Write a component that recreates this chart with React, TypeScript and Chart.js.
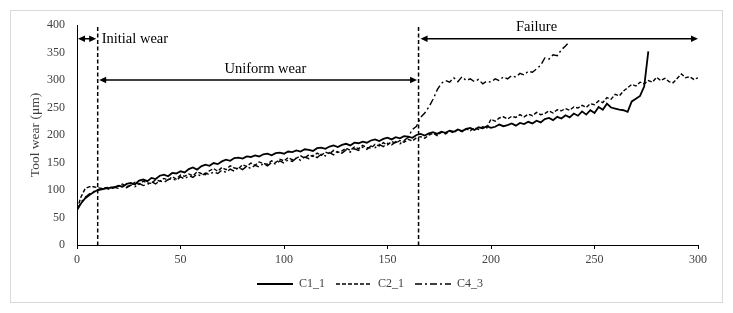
import React, { useEffect, useRef } from "react";
import { Chart, registerables } from "chart.js";

Chart.register(...registerables);

// Machining time sampled every 2 units
const timeValues = [
  0, 2, 4, 6, 8, 10, 12, 14, 16, 18, 20, 22, 24, 26, 28, 30, 32, 34, 36, 38,
  40, 42, 44, 46, 48, 50, 52, 54, 56, 58, 60, 62, 64, 66, 68, 70, 72, 74, 76, 78,
  80, 82, 84, 86, 88, 90, 92, 94, 96, 98, 100, 102, 104, 106, 108, 110, 112, 114, 116, 118,
  120, 122, 124, 126, 128, 130, 132, 134, 136, 138, 140, 142, 144, 146, 148, 150, 152, 154, 156, 158,
  160, 162, 164, 166, 168, 170, 172, 174, 176, 178, 180, 182, 184, 186, 188, 190, 192, 194, 196, 198,
  200, 202, 204, 206, 208, 210, 212, 214, 216, 218, 220, 222, 224, 226, 228, 230, 232, 234, 236, 238,
  240, 242, 244, 246, 248, 250, 252, 254, 256, 258, 260, 262, 264, 266, 268, 270, 272, 274, 276, 278,
  280, 282, 284, 286, 288, 290, 292, 294, 296, 298, 300,
];

const c1_1 = [
  64, 76, 85, 91, 96, 100, 101, 103, 104, 105,
  108, 106, 111, 113, 110, 117, 119, 116, 122, 120,
  126, 128, 125, 131, 130, 134, 132, 138, 141, 137,
  143, 146, 144, 149, 147, 152, 155, 153, 158, 159,
  157, 161, 160, 163, 161, 165, 166, 163, 167, 168,
  166, 170, 169, 172, 170, 174, 173, 171, 176, 177,
  175, 179, 181, 178, 182, 184, 181, 186, 185, 188,
  186, 190, 192, 189, 193, 195, 192, 196, 194, 198,
  197, 195, 200, 202, 199, 203, 205, 202, 206, 204,
  208, 206, 210, 207, 211, 213, 209, 214, 212, 216,
  213, 215, 219, 216, 218, 221, 217, 222, 220, 224,
  221, 226, 223, 229, 231, 227, 233, 230, 236, 232,
  239, 235, 243, 237, 245, 240, 251, 246, 257, 250,
  248, 246, 245, 242, 261, 266, 271, 288, 352,
];

const c2_1 = [
  65, 88, 103, 106, 106, 104, 103, 104, 105, 104,
  107, 111, 106, 109, 114, 110, 116, 113, 112, 119,
  116, 121, 118, 124, 120, 127, 125, 129, 126, 133,
  130, 128, 135, 139, 134, 141, 137, 144, 140, 139,
  146, 143, 149, 145, 151, 148, 147, 153, 150, 156,
  153, 159, 155, 158, 162, 158, 164, 161, 167, 163,
  169, 166, 172, 168, 171, 176, 172, 178, 175, 181,
  177, 176, 183, 180, 186, 182, 188, 185, 190, 187,
  192, 189, 195, 197, 194, 200, 203, 199, 205, 202,
  207, 204, 210, 206, 211, 208, 213, 210, 215, 213,
  229, 225, 231, 233, 229, 234, 232, 237, 233, 238,
  235, 241, 237, 239, 244, 240, 246, 244, 248, 245,
  251, 249, 254, 250, 257, 255, 262, 259, 268, 265,
  274, 271, 280, 286, 292, 289, 296, 293, 299, 296,
  305, 299, 303, 297, 295, 303, 311, 304, 306, 301,
  304,
];

const c4_3 = [
  63, 78, 87, 93, 97, 100, 102, 103, 101, 105,
  103, 107, 104, 109, 106, 112, 108, 110, 115, 111,
  117, 114, 119, 121, 117, 124, 120, 126, 123, 129,
  125, 131, 128, 133, 130, 136, 132, 138, 134, 141,
  137, 143, 139, 145, 142, 148, 144, 150, 147, 153,
  149, 155, 152, 158, 154, 160, 157, 163, 159, 165,
  162, 168, 164, 170, 167, 173, 169, 175, 172, 178,
  174, 180, 177, 183, 179, 185, 182, 188, 184, 190,
  196, 210, 216, 232, 240, 251, 265, 282, 294, 299,
  296, 304, 297, 306, 299, 302, 297, 301, 293, 298,
  296, 302, 299, 306, 302, 308, 305, 312, 309, 316,
  314, 320, 327, 340, 338, 346, 344, 355, 362, 370,
];

const seriesNames = ["C1_1", "C2_1", "C4_3"];
const xTickValues = [0, 50, 100, 150, 200, 250, 300];
const yTickValues = [0, 50, 100, 150, 200, 250, 300, 350, 400];
const phaseBoundaries = [10, 165];
const phaseLabels = ["Initial wear", "Uniform wear", "Failure"];
const yTitle = "Tool wear (\u03bcm)";

const SERIF = "'Liberation Serif', 'Times New Roman', serif";

function toPoints(values: number[]) {
  return values.map((v, i) => ({ x: timeValues[i], y: v }));
}

function drawArrow(ctx: CanvasRenderingContext2D, x0: number, x1: number, y: number) {
  const head = 7;
  const half = 3.2;
  ctx.beginPath();
  ctx.moveTo(x0 + head - 1, y);
  ctx.lineTo(x1 - head + 1, y);
  ctx.stroke();
  ctx.beginPath();
  ctx.moveTo(x0, y);
  ctx.lineTo(x0 + head, y - half);
  ctx.lineTo(x0 + head, y + half);
  ctx.closePath();
  ctx.fill();
  ctx.beginPath();
  ctx.moveTo(x1, y);
  ctx.lineTo(x1 - head, y - half);
  ctx.lineTo(x1 - head, y + half);
  ctx.closePath();
  ctx.fill();
}

const framePlugin = {
  id: "frame",
  afterLayout(chart: any) {
    const lg = chart.legend;
    if (lg) {
      lg.left += 21;
      lg.right += 21;
    }
  },
  beforeDraw(chart: any) {
    const { ctx, width, height } = chart;
    ctx.save();
    ctx.fillStyle = "#ffffff";
    ctx.fillRect(0, 0, width, height);
    ctx.strokeStyle = "#d9d9d9";
    ctx.lineWidth = 1;
    ctx.strokeRect(10.5, 10.5, width - 21, height - 21);
    ctx.restore();
  },
  afterDatasetsDraw(chart: any) {
    const { ctx, scales } = chart;
    const xs = scales.x;
    const ys = scales.y;
    ctx.save();
    ctx.strokeStyle = "#000";
    ctx.fillStyle = "#000";
    ctx.lineWidth = 1.5;
    ctx.setLineDash([4, 2.5]);
    const top = ys.getPixelForValue(yTickValues[yTickValues.length - 1]);
    const bottom = ys.getPixelForValue(0);
    phaseBoundaries.forEach((b) => {
      const px = xs.getPixelForValue(b);
      ctx.beginPath();
      ctx.moveTo(px, top + 2);
      ctx.lineTo(px, bottom);
      ctx.stroke();
    });
    ctx.setLineDash([]);
    ctx.lineWidth = 1.5;

    const xMin = xs.getPixelForValue(0);
    const xA = xs.getPixelForValue(phaseBoundaries[0]);
    const xB = xs.getPixelForValue(phaseBoundaries[1]);
    const xMax = xs.getPixelForValue(300);
    const yTopArrow = ys.getPixelForValue(375);
    const yMidArrow = ys.getPixelForValue(300);

    drawArrow(ctx, xMin + 1, xA - 1.5, yTopArrow);
    drawArrow(ctx, xA + 1.5, xB - 1.5, yMidArrow);
    drawArrow(ctx, xB + 2, xMax, yTopArrow);

    ctx.font = `14.5px ${SERIF}`;
    ctx.fillStyle = "#000";
    ctx.textBaseline = "middle";
    ctx.textAlign = "left";
    ctx.fillText(phaseLabels[0], xA + 4, ys.getPixelForValue(374));
    ctx.textAlign = "center";
    ctx.fillText(phaseLabels[1], xs.getPixelForValue(91), ys.getPixelForValue(320));
    ctx.fillText(phaseLabels[2], xs.getPixelForValue(222), ys.getPixelForValue(396));
    ctx.restore();
  },
};

export default function App() {
  const canvasRef = useRef<HTMLCanvasElement | null>(null);

  useEffect(() => {
    if (!canvasRef.current) return;
    const chart = new Chart(canvasRef.current, {
      type: "line",
      data: {
        datasets: [
          {
            label: seriesNames[0],
            data: toPoints(c1_1),
            borderColor: "#000",
            backgroundColor: "#000",
            borderWidth: 1.8,
            pointRadius: 0,
            tension: 0,
          },
          {
            label: seriesNames[1],
            data: toPoints(c2_1),
            borderColor: "#000",
            backgroundColor: "#000",
            borderWidth: 1.4,
            borderDash: [4, 2],
            pointRadius: 0,
            tension: 0,
          },
          {
            label: seriesNames[2],
            data: toPoints(c4_3),
            borderColor: "#000",
            backgroundColor: "#000",
            borderWidth: 1.4,
            borderDash: [7, 3, 2, 3],
            pointRadius: 0,
            tension: 0,
          },
        ],
      },
      options: {
        animation: false,
        responsive: true,
        maintainAspectRatio: false,
        layout: { padding: { top: 25, left: 0, right: 35, bottom: 13 } },
        plugins: {
          tooltip: { enabled: false },
          legend: {
            position: "bottom",
            labels: {
              usePointStyle: true,
              pointStyle: "line",
              pointStyleWidth: 36,
              padding: 11,
              color: "#404040",
              font: { family: SERIF, size: 12 },
              generateLabels: (chart: any) => {
                const items = Chart.defaults.plugins.legend.labels.generateLabels(chart);
                return items.map((item: any, i: number) => {
                  const ds = chart.data.datasets[item.datasetIndex ?? i];
                  return {
                    ...item,
                    pointStyle: "line",
                    lineDash: ds.borderDash || [],
                    lineWidth: ds.borderWidth,
                    strokeStyle: "#000",
                    fillStyle: "#000",
                  };
                });
              },
            },
          },
        },
        scales: {
          x: {
            type: "linear",
            min: 0,
            max: 300,
            afterBuildTicks: (scale: any) => {
              scale.ticks = xTickValues.map((v) => ({ value: v }));
            },
            afterFit: (scale: any) => {
              scale.height = 22;
            },
            grid: {
              display: true,
              drawOnChartArea: false,
              drawTicks: true,
              tickLength: 4,
              color: "#000",
            },
            border: { display: true, color: "#000", width: 1 },
            ticks: {
              padding: 4,
              color: "#404040",
              font: { family: SERIF, size: 12 },
              maxRotation: 0,
            },
          },
          y: {
            type: "linear",
            min: 0,
            max: 400,
            afterBuildTicks: (scale: any) => {
              scale.ticks = yTickValues.map((v) => ({ value: v }));
            },
            afterFit: (scale: any) => {
              scale.width = 77;
            },
            grid: { display: false, drawTicks: false },
            border: { display: true, color: "#000", width: 1 },
            ticks: {
              padding: 12,
              color: "#404040",
              font: { family: SERIF, size: 12 },
            },
            title: {
              display: true,
              text: yTitle,
              color: "#404040",
              font: { family: SERIF, size: 13.5 },
              padding: { top: 27, bottom: 0 },
            },
          },
        },
      },
      plugins: [framePlugin],
    });
    return () => chart.destroy();
  }, []);

  return (
    <div style={{ position: "fixed", left: 0, top: 0, width: 733, height: 313 }}>
      <canvas ref={canvasRef} />
    </div>
  );
}
